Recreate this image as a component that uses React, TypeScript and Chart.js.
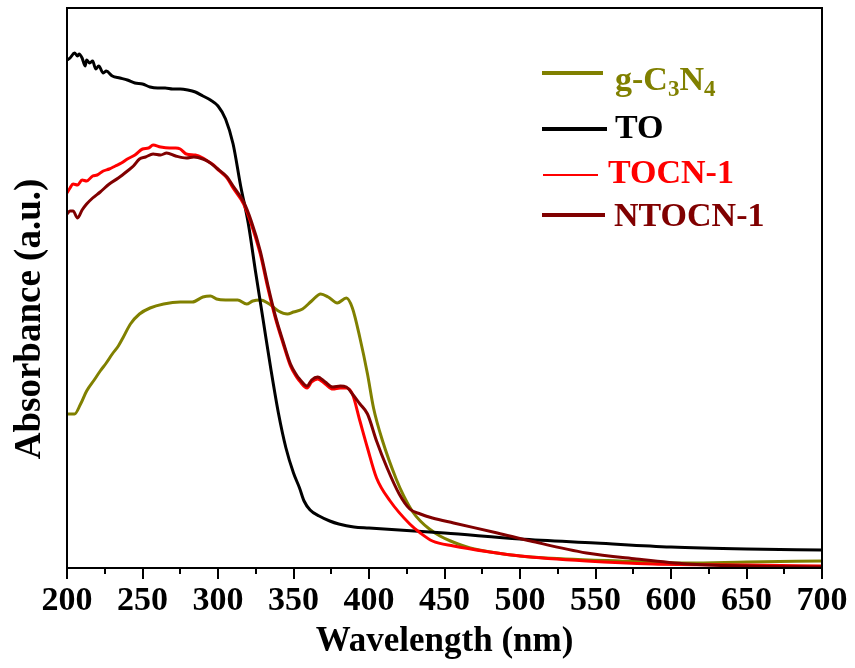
import React, { useEffect, useRef } from "react";
import { Chart, registerables } from "chart.js";

Chart.register(...registerables);

// ---- Data (wavelength in nm, absorbance in a.u.) ----
const xTickValues = [200, 250, 300, 350, 400, 450, 500, 550, 600, 650, 700];

const gcnX = [200,205,209,213,218,222,226,230,234,237,242,248,255,264,275,283,290,295,299,305,313,319,323,328,334,340,346,350,356,362,368,373,379,385,389,394,399,403,409,418,423,429,434,440,447,454,467,500,530,566,611,650,700];
const gcnY = [1.54,1.54,1.64,1.77,1.88,1.97,2.05,2.14,2.22,2.30,2.44,2.54,2.60,2.64,2.66,2.66,2.71,2.72,2.69,2.68,2.68,2.64,2.67,2.68,2.64,2.57,2.54,2.56,2.59,2.67,2.74,2.71,2.65,2.70,2.60,2.30,1.94,1.60,1.27,0.89,0.72,0.56,0.47,0.39,0.32,0.27,0.20,0.12,0.09,0.07,0.05,0.06,0.07];

const toX = [200,202,205,207,208,210,212,213,215,217,219,221,224,226,230,235,240,245,250,255,260,265,270,275,280,285,290,295,300,305,310,315,320,325,330,335,340,345,350,354,357,361,367,374,380,390,400,420,450,500,550,600,650,700];
const toY = [5.08,5.10,5.15,5.12,5.14,5.10,5.02,5.08,5.05,5.07,4.99,5.02,4.95,4.97,4.92,4.90,4.88,4.85,4.84,4.81,4.80,4.80,4.79,4.79,4.78,4.76,4.72,4.68,4.62,4.49,4.24,3.82,3.45,2.95,2.47,1.99,1.55,1.20,0.95,0.80,0.67,0.58,0.52,0.47,0.44,0.41,0.40,0.38,0.35,0.29,0.25,0.21,0.19,0.18];

const tocnX = [200,202,204,207,210,213,217,220,224,228,232,236,240,245,250,254,257,262,268,272,275,279,285,290,293,297,301,306,310,317,322,328,333,338,343,348,352,354,359,362,366,371,376,381,385,389,394,399,405,414,427,434,442,456,480,500,544,588,650,700];
const tocnY = [3.75,3.80,3.84,3.83,3.88,3.87,3.92,3.93,3.97,3.99,4.02,4.05,4.09,4.13,4.19,4.20,4.23,4.21,4.20,4.20,4.19,4.14,4.13,4.10,4.07,4.03,3.97,3.90,3.80,3.64,3.44,3.14,2.80,2.50,2.25,2.02,1.91,1.87,1.80,1.86,1.89,1.84,1.79,1.80,1.80,1.74,1.47,1.20,0.90,0.67,0.44,0.35,0.27,0.22,0.16,0.12,0.07,0.04,0.03,0.02];

const ntocnX = [200,202,204,207,210,213,217,222,228,234,240,244,248,252,257,262,266,272,279,284,290,295,299,306,310,317,322,328,333,338,343,348,352,354,359,362,366,371,376,381,385,389,394,399,405,412,420,427,434,442,456,485,507,544,577,611,650,700];
const ntocnY = [3.54,3.57,3.57,3.50,3.58,3.64,3.70,3.76,3.84,3.90,3.97,4.02,4.09,4.11,4.14,4.13,4.15,4.12,4.10,4.11,4.09,4.05,4.00,3.91,3.82,3.66,3.47,3.17,2.83,2.52,2.27,2.04,1.93,1.89,1.82,1.88,1.91,1.86,1.81,1.82,1.81,1.74,1.64,1.54,1.27,1.00,0.74,0.59,0.54,0.50,0.45,0.35,0.27,0.15,0.09,0.04,0.02,0.01];

const seriesNames = ["g-C3N4", "TO", "TOCN-1", "NTOCN-1"];
const seriesColors = ["#808000", "#000000", "#ff0000", "#800000"];

const pts = (xs: number[], ys: number[]) => xs.map((x, i) => ({ x, y: ys[i] }));

const SERIF = '"Liberation Serif", "Times New Roman", serif';

const decorPlugin = {
  id: "decor",
  afterDraw(chart: any) {
    const { ctx, chartArea } = chart;
    const xs = chart.scales.x;
    const { left, right, top, bottom } = chartArea;
    ctx.save();
    // frame
    ctx.strokeStyle = "#000";
    ctx.lineWidth = 2;
    ctx.strokeRect(left, top, right - left, bottom - top);
    // ticks
    for (let v = 200; v <= 700; v += 25) {
      const px = Math.round(xs.getPixelForValue(v));
      const major = v % 50 === 0;
      ctx.beginPath();
      ctx.moveTo(px, bottom);
      ctx.lineTo(px, bottom + (major ? 11 : 6));
      ctx.stroke();
    }
    // axis titles
    ctx.fillStyle = "#000";
    ctx.font = `bold 35px ${SERIF}`;
    ctx.textAlign = "center";
    ctx.textBaseline = "alphabetic";
    ctx.fillText("Wavelength (nm)", (left + right) / 2, 651);
    ctx.save();
    ctx.translate(40, 319);
    ctx.rotate(-Math.PI / 2);
    ctx.font = `bold 37px ${SERIF}`;
    ctx.fillText("Absorbance (a.u.)", 0, 0);
    ctx.restore();

    // legend
    const lines = [
      { y: 73, x1: 542, x2: 603, w: 4 },
      { y: 129, x1: 542, x2: 607, w: 4 },
      { y: 175, x1: 543, x2: 598, w: 2 },
      { y: 215, x1: 542, x2: 605, w: 4 },
    ];
    lines.forEach((l, i) => {
      ctx.strokeStyle = seriesColors[i];
      ctx.lineWidth = l.w;
      ctx.beginPath();
      ctx.moveTo(l.x1, l.y);
      ctx.lineTo(l.x2, l.y);
      ctx.stroke();
    });
    ctx.textAlign = "left";
    const big = `bold 34px ${SERIF}`;
    const small = `bold 23px ${SERIF}`;
    // g-C3N4 with subscripts
    ctx.fillStyle = seriesColors[0];
    let x = 615;
    const parts: [string, boolean][] = [["g-C", false], ["3", true], ["N", false], ["4", true]];
    parts.forEach(([t, sub]) => {
      ctx.font = sub ? small : big;
      ctx.fillText(t, x, sub ? 96 : 90);
      x += ctx.measureText(t).width;
    });
    ctx.font = big;
    ctx.fillStyle = seriesColors[1];
    ctx.fillText(seriesNames[1], 615, 138);
    ctx.fillStyle = seriesColors[2];
    ctx.fillText(seriesNames[2], 608, 183);
    ctx.fillStyle = seriesColors[3];
    ctx.fillText(seriesNames[3], 614, 226);
    ctx.restore();
  },
};

export default function App() {
  const ref = useRef<HTMLCanvasElement | null>(null);
  useEffect(() => {
    if (!ref.current) return;
    const data = [pts(gcnX, gcnY), pts(toX, toY), pts(tocnX, tocnY), pts(ntocnX, ntocnY)];
    const orders = [3, 2, 1, 0];
    const chart = new Chart(ref.current, {
      type: "line",
      data: {
        datasets: data.map((d, i) => ({
          label: seriesNames[i],
          data: d,
          borderColor: seriesColors[i],
          backgroundColor: seriesColors[i],
          borderWidth: 3,
          pointRadius: 0,
          tension: 0.3,
          cubicInterpolationMode: "monotone" as const,
          fill: false,
          order: orders[i],
        })),
      },
      options: {
        animation: false,
        responsive: false,
        devicePixelRatio: 1,
        layout: { padding: { left: 67, right: 33, top: 8, bottom: 0 } },
        plugins: { legend: { display: false }, tooltip: { enabled: false } },
        scales: {
          x: {
            type: "linear",
            min: 200,
            max: 700,
            afterFit: (s: any) => {
              s.height = 100;
            },
            afterBuildTicks: (s: any) => {
              s.ticks = xTickValues.map((v) => ({ value: v }));
            },
            border: { display: false },
            grid: {
              display: true,
              drawOnChartArea: false,
              drawTicks: true,
              tickLength: 10,
              color: "rgba(0,0,0,0)",
            },
            ticks: {
              autoSkip: false,
              maxRotation: 0,
              padding: 3,
              color: "#000",
              font: { family: SERIF, size: 34, weight: "bold" },
            },
          },
          y: { display: false, min: 0, max: 5.6 },
        },
      },
      plugins: [decorPlugin],
    });
    return () => chart.destroy();
  }, []);
  return (
    <div style={{ position: "fixed", left: 0, top: 0, width: 855, height: 668, background: "#fff" }}>
      <canvas ref={ref} width={855} height={668} style={{ width: 855, height: 668, display: "block" }} />
    </div>
  );
}
